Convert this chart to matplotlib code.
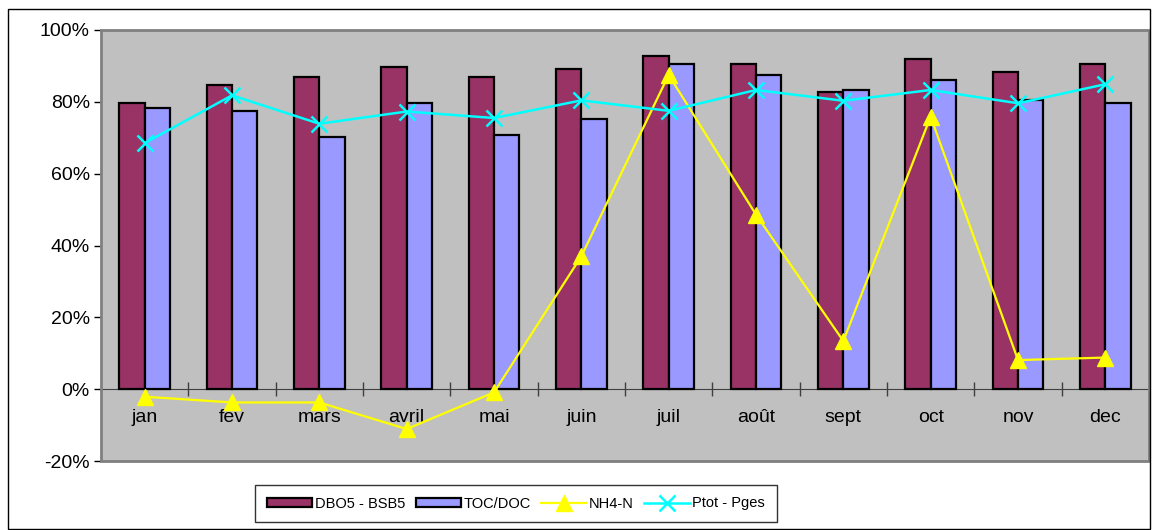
import numpy as np
import matplotlib
matplotlib.use("Agg")
import matplotlib.pyplot as plt
from matplotlib.patches import Rectangle
from matplotlib.ticker import FuncFormatter, FixedLocator

plt.rcParams['font.family'] = ['Liberation Sans', 'DejaVu Sans']

months = ['jan', 'fev', 'mars', 'avril', 'mai', 'juin', 'juil', 'août', 'sept', 'oct', 'nov', 'dec']
dbo5 = [79.6, 84.7, 86.9, 89.8, 86.9, 89.2, 92.8, 90.6, 82.6, 91.9, 88.4, 90.6]
toc = [78.2, 77.5, 70.2, 79.6, 70.8, 75.3, 90.6, 87.5, 83.3, 86.1, 80.4, 79.6]
nh4 = [-2.1, -3.7, -3.7, -11.1, -0.9, 37.0, 87.5, 48.6, 13.4, 75.9, 8.1, 8.8]
ptot = [68.5, 81.8, 73.9, 77.3, 75.5, 80.4, 77.5, 83.3, 80.3, 83.3, 79.6, 84.9]

fig = plt.figure(figsize=(11.56, 5.30), dpi=100)
ax = fig.add_axes([101 / 1156, 1 - 461 / 530, 1048 / 1156, 431 / 530])

x = np.arange(len(months))
w = 0.29
ax.set_facecolor('#C0C0C0')
b1 = ax.bar(x - w / 2, dbo5, w, color='#993366', edgecolor='black', linewidth=1.6,
            label='DBO5 - BSB5', zorder=2)
b2 = ax.bar(x + w / 2, toc, w, color='#9999FF', edgecolor='black', linewidth=1.6,
            label='TOC/DOC', zorder=2)
l1, = ax.plot(x, nh4, color='#FFFF00', marker='^', markersize=12, linewidth=1.6,
              label='NH4-N', zorder=3)
l2, = ax.plot(x, ptot, color='#00FFFF', marker='x', markersize=12, markeredgewidth=1.8,
              linewidth=1.8, label='Ptot - Pges', zorder=4)

ax.set_xlim(-0.5, len(months) - 0.5)
ax.set_ylim(-20, 100)
ax.set_yticks(np.arange(-20, 101, 20))
ax.yaxis.set_major_formatter(FuncFormatter(lambda v, p: f'{v:.0f}%'))
ax.tick_params(axis='y', direction='out', length=5, width=1, labelsize=14, pad=3)

# x axis at 0%, boundary ticks, labels at centres
ax.spines['bottom'].set_position(('data', 0))
ax.spines['bottom'].set_color('#404040')
ax.spines['bottom'].set_zorder(1)
ax.xaxis.set_major_locator(FixedLocator(np.arange(0.5, len(months) - 0.5, 1)))
ax.xaxis.set_major_formatter(FuncFormatter(lambda v, p: ''))
ax.xaxis.set_minor_locator(FixedLocator(x))
ax.set_xticklabels(months, minor=True)
ax.tick_params(axis='x', which='major', direction='inout', length=10, width=1, color='#404040')
ax.tick_params(axis='x', which='minor', length=0, labelsize=14, pad=14)

for s in ['top', 'right']:
    ax.spines[s].set_visible(False)
ax.spines['left'].set_color('#303030')
ax.add_patch(Rectangle((0, 0), 1, 1, transform=ax.transAxes, fill=False,
                       edgecolor='#808080', linewidth=2, zorder=5, clip_on=False))

# outer chart border
fig.add_artist(Rectangle((8 / 1156, 1 / 530), 1142 / 1156, 520 / 530,
                         transform=fig.transFigure, fill=False, edgecolor='black', linewidth=1))

fig.legend(handles=[b1, b2, l1, l2], loc='center', bbox_to_anchor=(516 / 1156, 1 - 503.5 / 530),
           ncol=4, fontsize=10.5, frameon=True, fancybox=False, edgecolor='black',
           handlelength=3.1, handleheight=0.65, handletextpad=0.2, columnspacing=0.7,
           borderpad=0.8, borderaxespad=0)

fig.savefig('out.png', dpi=100)
